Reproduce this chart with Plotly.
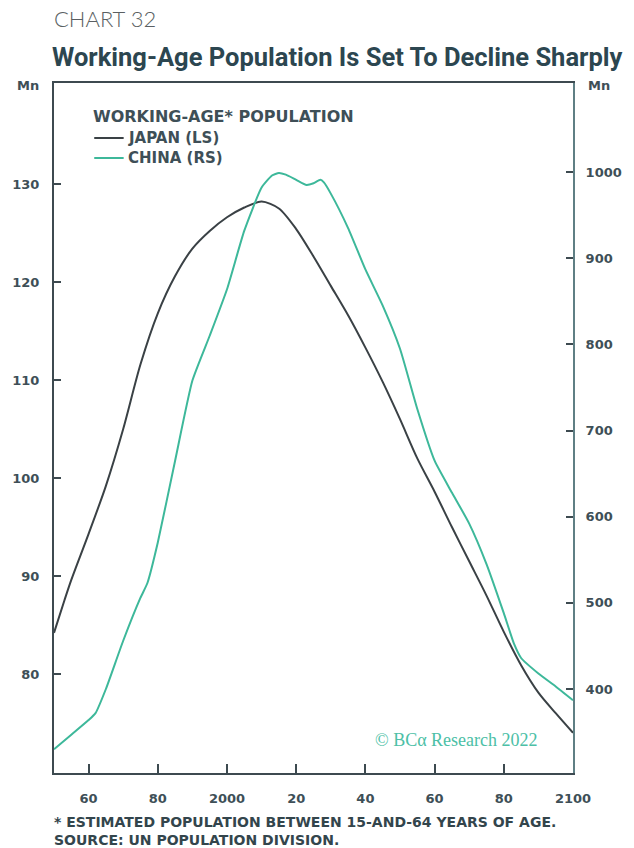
import plotly.graph_objects as go

# Working-age population, millions
japan_years = [1950, 1953, 1955, 1960, 1965, 1970, 1975, 1980, 1985, 1990, 1995,
               2000, 2005, 2010, 2015, 2020, 2025, 2030, 2035, 2040, 2045, 2050,
               2055, 2060, 2065, 2070, 2075, 2080, 2085, 2090, 2095, 2100]
japan_pop = [84.2, 87.5, 89.6, 94.3, 99.2, 105.0, 111.6, 116.8, 120.6, 123.4, 125.2,
             126.6, 127.6, 128.2, 127.5, 125.4, 122.6, 119.6, 116.6, 113.3, 109.8, 106.0,
             102.0, 98.6, 95.0, 91.5, 88.0, 84.3, 80.9, 78.1, 76.0, 74.0]

china_years = [1950, 1955, 1960, 1962, 1965, 1970, 1975, 1977, 1980, 1985, 1990, 1995,
               2000, 2005, 2010, 2013, 2015, 2017, 2020, 2023, 2025, 2027, 2028, 2030,
               2035, 2040, 2045, 2050, 2055, 2060, 2065, 2070, 2075, 2080, 2083, 2085,
               2090, 2095, 2100]
china_pop = [330, 347, 364, 372, 400, 456, 506, 523, 570, 665, 758, 810,
             864, 932, 982, 996, 999, 997, 991, 985, 987, 991, 988, 975,
             935, 887, 845, 795, 725, 665, 628, 592, 545, 488, 452, 436,
             418, 403, 387]

x_tickvals = [1960, 1980, 2000, 2020, 2040, 2060, 2080, 2100]
x_ticktext = ["60", "80", "2000", "20", "40", "60", "80", "2100"]
left_ticks = [80, 90, 100, 110, 120, 130]
right_ticks = [400, 500, 600, 700, 800, 900, 1000]

DARK = "#3a4145"
TEAL = "#3db89a"
AXIS = "#3d4a50"
LABEL = "#3e4f57"
WIDE = "DejaVu Sans"

fig = go.Figure()
fig.add_trace(go.Scatter(x=japan_years, y=japan_pop, mode="lines", name="JAPAN (LS)",
                         line=dict(color=DARK, width=2, shape="spline", smoothing=0.8)))
fig.add_trace(go.Scatter(x=china_years, y=china_pop, mode="lines", name="CHINA (RS)",
                         yaxis="y2",
                         line=dict(color=TEAL, width=2, shape="spline", smoothing=0.5)))

tickfont = dict(family=WIDE, size=13, color=LABEL, weight="bold")

fig.update_layout(
    width=634, height=848,
    margin=dict(l=52, r=53, t=83, b=75),
    paper_bgcolor="white", plot_bgcolor="white",
    showlegend=False,
    xaxis=dict(range=[1950, 2100], tickvals=x_tickvals, ticktext=x_ticktext,
               showgrid=False, zeroline=False, showline=True, linecolor=AXIS,
               linewidth=2, mirror=True, ticks="inside", ticklen=9, tickwidth=2,
               tickcolor=AXIS, tickfont=tickfont, ticklabelstandoff=12),
    yaxis=dict(range=[69.9, 140.3], tickvals=left_ticks, showgrid=False,
               zeroline=False, showline=True, linecolor=AXIS, linewidth=2,
               ticks="inside", ticklen=7, tickwidth=2, tickcolor=AXIS,
               tickfont=tickfont, ticklabelstandoff=10),
    yaxis2=dict(range=[302.5, 1103.4], tickvals=right_ticks, overlaying="y",
                side="right", showgrid=False, zeroline=False, showline=True,
                linecolor="#5f7f84", linewidth=2, ticks="inside", ticklen=7,
                tickwidth=2, tickcolor=AXIS, tickfont=tickfont,
                ticklabelstandoff=8),
)

# page-pixel placement helpers (plot area spans these page pixels)
plot_l, plot_r, plot_t, plot_b = 52, 581, 83, 773


def px(x):
    return (x - plot_l) / (plot_r - plot_l)


def py(y):
    return (plot_b - y) / (plot_b - plot_t)


texts = [
    dict(text="CHART 32", x=50, y=18,
         font=dict(family="Lato", size=22, color="#5a5f62", weight=300)),
    dict(text="<b>Working-Age Population Is Set To Decline Sharply</b>",
         x=48, y=57, font=dict(family="Roboto", size=25.5, color="#2c4650")),
    dict(text="<b>Mn</b>", x=12, y=86, font=dict(family=WIDE, size=13, color=LABEL)),
    dict(text="<b>Mn</b>", x=594, y=86, font=dict(family=WIDE, size=13, color=LABEL)),
    dict(text="<b>WORKING-AGE* POPULATION</b>", x=90, y=117,
         font=dict(family=WIDE, size=16, color=LABEL)),
    dict(text="<b>JAPAN (LS)</b>", x=125, y=138,
         font=dict(family=WIDE, size=15, color=LABEL)),
    dict(text="<b>CHINA (RS)</b>", x=125, y=158,
         font=dict(family=WIDE, size=15, color=LABEL)),
    dict(text="<b>* ESTIMATED POPULATION BETWEEN 15-AND-64 YEARS OF AGE.</b>",
         x=50, y=822, font=dict(family=WIDE, size=14, color="#33454c")),
    dict(text="<b>SOURCE: UN POPULATION DIVISION.</b>",
         x=50, y=840, font=dict(family=WIDE, size=14, color="#33454c")),
]
for a in texts:
    fig.add_annotation(text=a["text"], x=px(a["x"]), y=py(a["y"]),
                       xref="paper", yref="paper", xanchor="left", yanchor="middle",
                       showarrow=False, font=a["font"])

# legend line samples
for y, colour in [(138, DARK), (158, TEAL)]:
    fig.add_shape(type="line", xref="paper", yref="paper",
                  x0=px(93), x1=px(123), y0=py(y), y1=py(y),
                  line=dict(color=colour, width=2))

fig.add_annotation(text="© BCα Research 2022", x=2090.5, y=73.3, xref="x", yref="y",
                   xanchor="right", yanchor="middle", showarrow=False,
                   font=dict(family="Liberation Serif", size=18, color="#4cc0a6"))

fig.write_html("out.html")
